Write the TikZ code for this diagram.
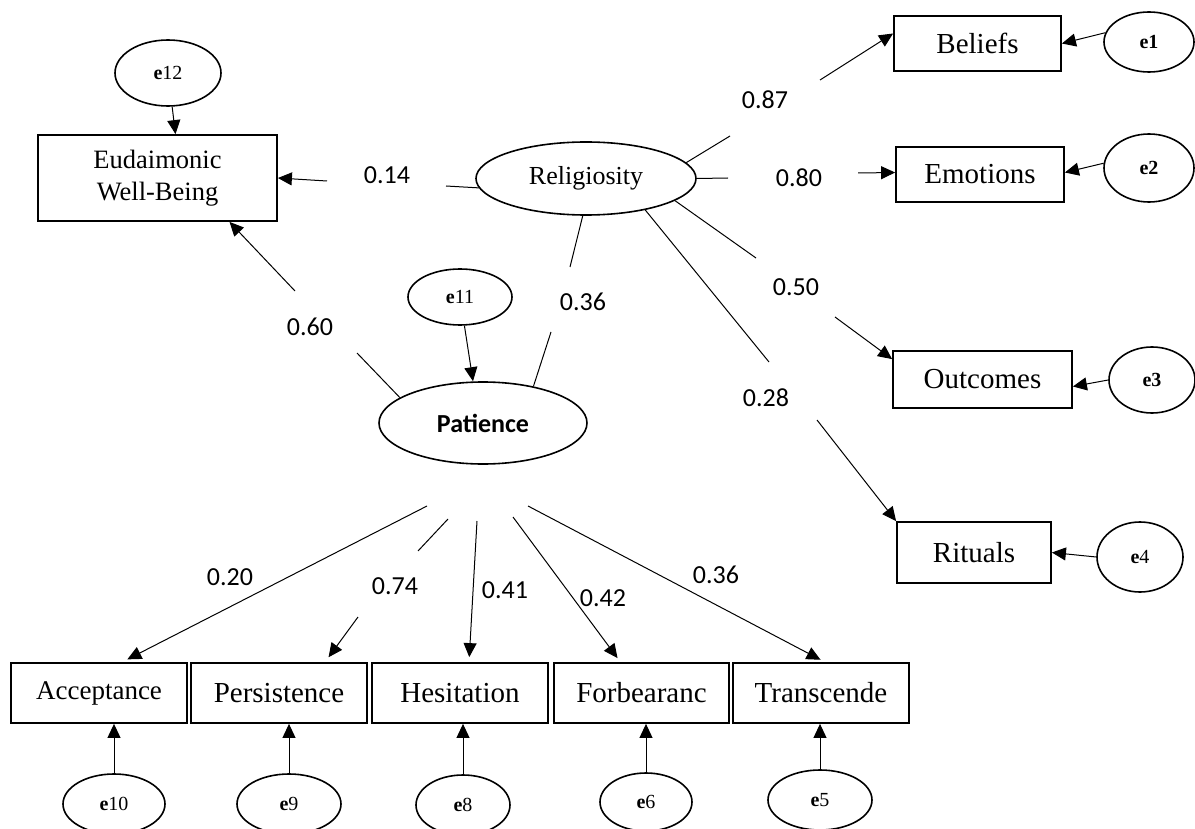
\documentclass[tikz,border=0pt]{standalone}
\usepackage{fontspec}
\setmainfont{Liberation Serif}
\newfontfamily\calfont{Carlito}
\usetikzlibrary{shapes.geometric,arrows.meta,calc}
\begin{document}
\begin{tikzpicture}[x=1pt,y=-1pt,
  box/.style={draw,line width=1.8pt,rectangle,inner sep=0pt,font=\fontsize{29}{32}\selectfont},
  ell/.style={draw,line width=1.6pt,ellipse,inner sep=0pt},
  err/.style={ell,font=\fontsize{20}{24}\selectfont},
  num/.style={font=\calfont\fontsize{26}{30}\selectfont,inner sep=0pt},
  ln/.style={line width=1pt},
  arr/.style={line width=1pt,-{Triangle[length=14pt,width=13pt]}}]
\useasboundingbox (0,0) rectangle (1195,829);

% boxes
\node[box,minimum width=239pt,minimum height=86pt,align=center,font=\fontsize{26.5}{32}\selectfont] (eud) at (157.5,178) {Eudaimonic\\Well-Being};
\node[box,minimum width=167pt,minimum height=55pt] (bel) at (977.5,43.5) {Beliefs};
\node[box,minimum width=168pt,minimum height=55pt] (emo) at (980,174.5) {Emotions};
\node[box,minimum width=179pt,minimum height=57pt] (out) at (982.5,379.5) {Outcomes};
\node[box,minimum width=154pt,minimum height=61pt] (rit) at (974,552.5) {Rituals};
\node[box,minimum width=176pt,minimum height=60pt,font=\fontsize{27}{32}\selectfont] (acc) at (99,693) {Acceptance};
\node[box,minimum width=176pt,minimum height=60pt] (per) at (279,693) {Persistence};
\node[box,minimum width=176pt,minimum height=60pt] (hes) at (460,693) {Hesitation};
\node[box,minimum width=175pt,minimum height=60pt] (forb) at (641.5,693) {Forbearanc};
\node[box,minimum width=176pt,minimum height=60pt] (tra) at (821,693) {Transcende};

% latent ellipses
\node[ell,minimum width=220pt,minimum height=73pt,font=\fontsize{26}{30}\selectfont] (rel) at (586,178.5) {Religiosity};
\node[ell,minimum width=208pt,minimum height=82pt,font=\calfont\bfseries\fontsize{26}{30}\selectfont] (pat) at (483,423) {Patience};

% error ellipses
\node[err,minimum width=104pt,minimum height=56pt] (e11) at (460,297) {\textbf{e}11};
\node[err,minimum width=106pt,minimum height=66pt] (e12) at (168,73) {\textbf{e}12};
\node[err,minimum width=90pt,minimum height=60pt] (e1) at (1149,42) {\textbf{e1}};
\node[err,minimum width=90pt,minimum height=68pt] (e2) at (1149,168) {\textbf{e2}};
\node[err,minimum width=86pt,minimum height=66pt] (e3) at (1152,380) {\textbf{e3}};
\node[err,minimum width=86pt,minimum height=70pt] (e4) at (1140,557) {\textbf{e}4};
\node[err,minimum width=102pt,minimum height=60pt] (e10) at (114,804) {\textbf{e}10};
\node[err,minimum width=104pt,minimum height=60pt] (e9) at (289,804) {\textbf{e}9};
\node[err,minimum width=94pt,minimum height=60pt] (e8) at (463,805) {\textbf{e}8};
\node[err,minimum width=92pt,minimum height=58pt] (e6) at (646,802) {\textbf{e}6};
\node[err,minimum width=104pt,minimum height=60pt] (e5) at (820,800) {\textbf{e}5};

% free ends of broken connectors
\coordinate (s14) at (446,186);  \coordinate (a14) at (327,181);
\coordinate (s87) at (730,136);  \coordinate (a87) at (820,80);
\coordinate (s80) at (728,178);  \coordinate (a80) at (858,173);
\coordinate (s50) at (756,258);  \coordinate (a50) at (835,317);
\coordinate (s28) at (769,362);  \coordinate (a28) at (817,420);
\coordinate (s36a) at (570,267); \coordinate (s36b) at (551,332);
\coordinate (s60) at (357,353);  \coordinate (a60) at (295,291);
\coordinate (pa1) at (427,506);  \coordinate (pa2) at (448,519);
\coordinate (pa3) at (477,521);  \coordinate (pa4) at (513,517);
\coordinate (pa5) at (528,506);
\coordinate (m74a) at (418,551); \coordinate (m74b) at (358,617);

% Religiosity paths
\draw[ln] (rel.185) -- (s14);
\draw[arr] (a14) -- (eud.east);
\node[num] (l14) at (387,175) {0.14};

\draw[ln] (rel.9) -- (s87);
\draw[arr] (a87) -- ([yshift=10pt]bel.west);
\node[num] (l87) at (765,100) {0.87};

\draw[ln] (rel.east) -- (s80);
\draw[arr] (a80) -- ([yshift=2pt]emo.west);
\node[num] (l80) at (799,178) {0.80};

\draw[ln] (rel.-14) -- (s50);
\draw[arr] (a50) -- ([yshift=-9pt]out.north west);
\node[num] (l50) at (796,287) {0.50};

\draw[ln] (rel.-28) -- (s28);
\draw[arr] (a28) -- (rit.north west);
\node[num] (l28) at (766,398) {0.28};

\draw[ln] (rel.265) -- (s36a);
\draw[ln] (s36b) -- (pat.36);
\node[num] (l36a) at (583,302) {0.36};

% Patience -> Eudaimonic
\draw[ln] (pat.163) -- (s60);
\draw[arr] (a60) -- ([xshift=72pt]eud.south);
\node[num] (l60) at (310,327) {0.60};

% error arrows
\draw[arr] (e11) -- ([xshift=-10pt]pat.north);
\draw[arr] (e12) -- ([xshift=18pt]eud.north);
\draw[arr] (e1.168) -- (bel.east);
\draw[arr] (e2.174) -- ([yshift=2pt]emo.east);
\draw[arr] (e3.west) -- ([yshift=-7pt]out.east);
\draw[arr] (e4.west) -- (rit.east);
\draw[arr] (e10.north) -- (e10.north |- acc.south);
\draw[arr] (e9.north) -- (e9.north |- per.south);
\draw[arr] (e8.north) -- (e8.north |- hes.south);
\draw[arr] (e6.north) -- (e6.north |- forb.south);
\draw[arr] (e5.north) -- (e5.north |- tra.south);

% Patience indicators
\draw[arr,shorten >=6pt] (pa1) -- ([xshift=23pt]acc.north);
\node[num] (l20) at (230,577) {0.20};
\draw[ln] (pa2) -- (m74a);
\draw[arr,shorten >=6pt] (m74b) -- ([xshift=46pt]per.north);
\node[num] (l74) at (395,586) {0.74};
\draw[arr,shorten >=5pt] (pa3) -- ([xshift=9pt]hes.north);
\node[num] (l41) at (505,590) {0.41};
\draw[arr,shorten >=5pt] (pa4) -- ([xshift=-21pt]forb.north);
\node[num] (l42) at (603,598) {0.42};
\draw[arr,shorten >=5pt] (pa5) -- ([xshift=4pt]tra.north);
\node[num] (l36b) at (716,575) {0.36};
\end{tikzpicture}
\end{document}
